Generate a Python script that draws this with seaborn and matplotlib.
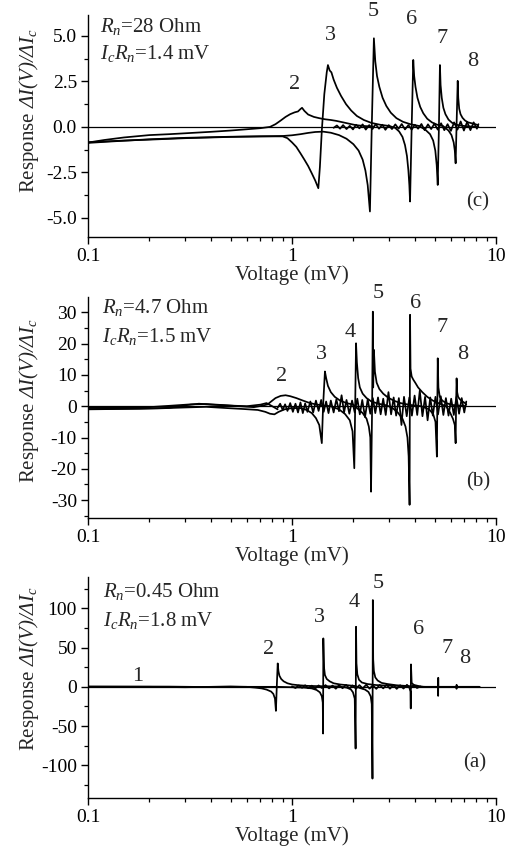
import matplotlib
matplotlib.use("Agg")
import matplotlib.pyplot as plt
import seaborn as sns
import pandas as pd
from matplotlib.ticker import MultipleLocator, LogLocator, NullFormatter

sns.set_style("ticks")
plt.rcParams['font.family'] = ['Liberation Serif', 'DejaVu Serif']
plt.rcParams['mathtext.fontset'] = 'custom'
plt.rcParams['mathtext.rm'] = 'Liberation Serif:italic'
plt.rcParams['mathtext.it'] = 'Liberation Serif:italic'
plt.rcParams['mathtext.bf'] = 'Liberation Serif:bold'
plt.rcParams['axes.unicode_minus'] = False

# ---------------- data ----------------
X_TICKS = [0.1, 1, 10]
X_TICK_LABELS = ["0.1", "1", "10"]
X_LABEL = "Voltage (mV)"
Y_LABEL = r"Response $\Delta I(V)/\Delta I_c$"

# Panel (c): Rn = 28 Ohm
C_TRACE1 = [(0.10, -0.86), (0.12, -0.72), (0.15, -0.58), (0.20, -0.45), (0.25, -0.40), (0.30, -0.35),
            (0.40, -0.27), (0.50, -0.20), (0.60, -0.13), (0.70, -0.07), (0.78, 0.00), (0.83, 0.15),
            (0.88, 0.35), (0.93, 0.55), (0.98, 0.70), (1.03, 0.80), (1.07, 0.85), (1.10, 0.98),
            (1.12, 1.05), (1.15, 0.88), (1.20, 0.68), (1.28, 0.55), (1.36, 0.48), (1.45, 0.42),
            (1.55, 0.38), (1.65, 0.33), (1.78, 0.25), (1.90, 0.18), (2.05, 0.10), (2.25, 0.05), (2.50, 0.02)]
C_TRACE2 = [(0.10, -0.88), (0.13, -0.80), (0.20, -0.68), (0.30, -0.60), (0.50, -0.54), (0.70, -0.52),
            (0.90, -0.52), (0.95, -0.62), (1.00, -0.85), (1.05, -1.10), (1.10, -1.45), (1.15, -1.80),
            (1.20, -2.15), (1.25, -2.55), (1.30, -2.95), (1.346, -3.37), (1.37, -2.20), (1.40, -0.20),
            (1.44, 1.80), (1.48, 3.00), (1.50, 3.40), (1.53, 3.10), (1.56, 3.00), (1.60, 2.60),
            (1.66, 2.15), (1.74, 1.70), (1.84, 1.25), (1.95, 0.90), (2.08, 0.60), (2.25, 0.38),
            (2.45, 0.22), (2.70, 0.12), (3.00, 0.05), (3.20, -0.05), (3.35, -0.25), (3.48, -0.55),
            (3.58, -1.00), (3.66, -1.60), (3.72, -2.40), (3.76, -3.20), (3.79, -4.10), (3.86, 0.00),
            (3.93, 3.68), (3.97, 2.80), (4.03, 2.20), (4.12, 1.60), (4.25, 1.10), (4.40, 0.75),
            (4.60, 0.45), (4.85, 0.25), (5.15, 0.12), (5.50, 0.05), (5.85, -0.20), (6.05, -0.45),
            (6.20, -0.85), (6.28, -1.30), (6.34, -2.00), (6.42, 0.50), (6.49, 2.53), (6.53, 1.60),
            (6.60, 1.00), (6.70, 0.70), (6.85, 0.50), (7.05, 0.35), (7.30, 0.25), (7.60, 0.20),
            (7.90, 0.15), (8.15, 0.10)]
C_TRACE3 = [(0.10, -0.84), (0.15, -0.75), (0.20, -0.70), (0.30, -0.62), (0.50, -0.55), (0.70, -0.52),
            (0.90, -0.50), (1.00, -0.46), (1.10, -0.40), (1.20, -0.33), (1.30, -0.28), (1.42, -0.26),
            (1.55, -0.32), (1.70, -0.45), (1.85, -0.65), (2.00, -0.95), (2.12, -1.30), (2.22, -1.80),
            (2.29, -2.40), (2.35, -3.20), (2.41, -4.65), (2.46, 0.00), (2.52, 4.87), (2.56, 3.60),
            (2.61, 2.80), (2.68, 2.20), (2.78, 1.60), (2.90, 1.15), (3.05, 0.78), (3.25, 0.48),
            (3.50, 0.28), (3.80, 0.15), (4.20, 0.05), (4.50, -0.15), (4.75, -0.40), (4.92, -0.75),
            (5.04, -1.30), (5.12, -2.10), (5.18, -3.19), (5.25, 0.00), (5.31, 3.40), (5.35, 2.30),
            (5.42, 1.60), (5.52, 1.05), (5.65, 0.70), (5.85, 0.40), (6.10, 0.22), (6.50, 0.10),
            (7.00, 0.05), (7.60, 0.02), (8.20, 0.00)]
C_NOISE_V = [1.60, 1.66, 1.72, 1.78, 1.85, 1.92, 1.99, 2.06, 2.14, 2.22, 2.30, 2.39, 2.48, 2.57, 2.67,
             2.77, 2.87, 2.98, 3.09, 3.21, 3.33, 3.45, 3.58, 3.72, 3.86, 4.00, 4.15, 4.31, 4.47, 4.64,
             4.81, 4.99, 5.18, 5.38, 5.58, 5.79, 6.01, 6.23, 6.47, 6.71, 6.96, 7.22, 7.49, 7.77, 8.06, 8.20]
C_NOISE_R = [-0.05, 0.08, -0.10, 0.10, -0.12, 0.06, -0.14, 0.12, -0.08, 0.14, -0.15, 0.10, -0.12, 0.15,
             -0.10, 0.12, -0.16, 0.10, -0.12, 0.14, -0.10, 0.16, -0.14, 0.10, -0.15, 0.12, -0.10, 0.16,
             -0.18, 0.14, -0.12, 0.18, -0.15, 0.20, -0.18, 0.15, -0.22, 0.25, -0.15, 0.30, -0.20, 0.28,
             -0.18, 0.25, -0.10, 0.15]

# Panel (b): Rn = 4.7 Ohm
B_TRACE1 = [(0.10, -0.5), (0.15, -0.4), (0.20, -0.3), (0.26, 0.2), (0.32, 0.6), (0.38, 0.7), (0.45, 0.4),
            (0.55, 0.0), (0.65, -0.3), (0.72, 0.2), (0.76, 0.6), (0.79, 1.5), (0.83, 2.6), (0.88, 3.3),
            (0.93, 3.5), (0.98, 3.2), (1.05, 2.6), (1.12, 1.9), (1.20, 1.2), (1.30, 0.6), (1.40, 0.3),
            (1.55, 0.0), (1.70, -1.0), (1.82, -2.5), (1.92, -4.5), (1.98, -8.0), (2.02, -19.8),
            (2.04, 0.0), (2.06, 20.1), (2.08, 14.0), (2.11, 9.0), (2.15, 6.0), (2.22, 4.0), (2.32, 2.6),
            (2.45, 1.5), (2.65, 0.8), (2.90, 0.3), (3.10, -0.5), (3.30, -2.0), (3.48, -4.0), (3.60, -6.5),
            (3.68, -10.0), (3.73, -16.0), (3.77, -31.5), (3.78, 0.0), (3.79, 29.2), (3.81, 12.0),
            (3.86, 9.5), (3.93, 8.5), (4.02, 7.5), (4.15, 6.0), (4.35, 4.5), (4.60, 3.0), (4.90, 1.8),
            (5.30, 0.8), (5.70, 0.0), (5.95, -2.0), (6.15, -4.0), (6.28, -6.0), (6.34, -11.8),
            (6.37, 0.0), (6.41, 8.9), (6.45, 4.5), (6.52, 3.0), (6.65, 2.2), (6.85, 1.5), (7.05, 1.0),
            (7.15, 0.5)]
B_TRACE2 = [(0.10, -0.9), (0.15, -0.8), (0.22, -0.7), (0.30, -0.4), (0.38, -0.2), (0.48, -0.6),
            (0.58, -0.9), (0.68, -1.2), (0.74, -1.8), (0.78, -2.4), (0.82, -2.6), (0.86, -1.8),
            (0.92, -1.0), (1.00, -0.6), (1.10, -0.6), (1.18, -1.2), (1.25, -2.2), (1.31, -3.8),
            (1.36, -6.0), (1.40, -11.8), (1.42, 0.0), (1.45, 11.1), (1.47, 9.0), (1.50, 6.5), (1.55, 4.5),
            (1.62, 3.0), (1.72, 1.8), (1.85, 1.0), (2.00, 0.5), (2.10, -0.8), (2.22, -2.2), (2.32, -4.0),
            (2.38, -6.5), (2.42, -10.0), (2.44, -27.3), (2.47, 0.0), (2.49, 30.2), (2.50, 6.0),
            (2.52, 18.0), (2.55, 11.0), (2.60, 7.5), (2.68, 5.5), (2.80, 4.0), (2.95, 2.8), (3.15, 1.8),
            (3.40, 1.0), (3.80, 0.4), (4.30, 0.0), (4.70, -1.0), (4.92, -2.5), (5.05, -5.0),
            (5.13, -16.1), (5.155, 0.0), (5.18, 15.3), (5.22, 6.0), (5.30, 3.0), (5.45, 1.8), (5.70, 1.0),
            (6.10, 0.4), (6.60, 0.2), (7.00, 0.1)]
B_TRACE3 = [(0.10, -1.0), (0.18, -0.8), (0.25, -0.5), (0.30, 0.3), (0.35, 0.8), (0.40, 0.5), (0.50, 0.2),
            (0.60, 0.0), (0.70, 0.5), (0.75, 1.0), (0.80, 0.0), (0.85, -1.0)]
B_NOISE_V = [0.85, 0.875, 0.9, 0.925, 0.95, 0.98, 1.01, 1.04, 1.07, 1.10, 1.13, 1.16, 1.19, 1.23, 1.27,
             1.31, 1.35, 1.39, 1.43, 1.47, 1.51, 1.55, 1.60, 1.65, 1.70, 1.75, 1.80, 1.85, 1.91, 1.97,
             2.03, 2.09, 2.15, 2.21, 2.28, 2.35, 2.42, 2.49, 2.56, 2.64, 2.72, 2.80, 2.88, 2.97, 3.06,
             3.15, 3.24, 3.34, 3.44, 3.54, 3.65, 3.76, 3.87, 3.99, 4.11, 4.23, 4.36, 4.49, 4.62, 4.76,
             4.90, 5.05, 5.20, 5.36, 5.52, 5.68, 5.85, 6.03, 6.21, 6.40, 6.59, 6.79, 6.99, 7.15]
B_NOISE_R = [-0.5, 0.8, -1.2, 0.6, -1.5, 1.0, -1.8, 0.8, -2.0, 1.2, -2.2, 0.9, -1.8, 1.5, -2.0, 1.8,
             -1.5, 2.0, -1.8, 1.5, -2.2, 1.8, -2.0, 2.2, -1.6, 3.5, -2.0, 2.0, -2.4, 1.8, -2.0, 2.4,
             -2.6, 2.0, -3.5, 2.2, -2.4, 2.6, -2.2, 2.8, -2.6, 2.4, -2.8, 4.5, -2.6, 2.8, -3.0, 2.6,
             -6.0, 3.0, -3.2, 2.8, -3.0, 3.4, -2.8, 5.0, -3.2, 3.0, -4.5, 2.8, -3.0, 3.0, -2.6, 3.2,
             -2.8, 2.6, -3.0, 2.4, -2.8, 3.0, -2.4, 2.6, -2.0, 1.5]

# Panel (a): Rn = 0.45 Ohm
A_TRACE1 = [(0.10, 0.0), (0.20, 0.0), (0.30, -0.5), (0.40, 0.0), (0.50, 0.5), (0.60, 0.0), (0.66, -1.0),
            (0.71, -2.0), (0.75, -3.5), (0.79, -6.0), (0.81, -9.0), (0.825, -15.0), (0.834, -30.6),
            (0.842, 0.0), (0.851, 29.8), (0.858, 20.0), (0.868, 14.0), (0.885, 10.0), (0.91, 7.0),
            (0.95, 4.5), (1.00, 3.0), (1.08, 2.0), (1.20, 1.2), (1.40, 0.8), (1.70, 0.5), (1.85, -1.0),
            (1.94, -3.0), (1.99, -7.0), (2.03, -15.0), (2.05, -78.5), (2.055, 0.0), (2.06, 76.4),
            (2.07, 30.0), (2.09, 16.0), (2.13, 9.0), (2.20, 5.5), (2.35, 3.5), (2.60, 2.2), (3.00, 1.5),
            (3.50, 1.0), (3.75, 0.0), (3.81, -6.0), (3.82, -27.5), (3.825, 0.0), (3.83, 28.5),
            (3.86, 5.0), (3.95, 2.5), (4.10, 1.5), (4.25, 0.5), (4.40, 0.0), (8.30, 0.0)]
A_TRACE2 = [(0.10, 0.5), (0.25, 0.3), (0.40, -0.3), (0.60, 0.0), (0.85, 0.0), (1.00, -0.5), (1.15, -1.0),
            (1.25, -2.0), (1.32, -4.0), (1.37, -7.0), (1.40, -12.0), (1.415, -20.0), (1.42, -59.4),
            (1.422, 0.0), (1.424, 61.6), (1.435, 25.0), (1.45, 15.0), (1.48, 10.0), (1.53, 7.0),
            (1.60, 4.5), (1.72, 3.0), (1.88, 2.0), (2.05, 1.0), (2.15, -1.5), (2.28, -3.5), (2.37, -6.5),
            (2.43, -12.0), (2.46, -22.0), (2.48, -116.7), (2.485, 0.0), (2.49, 110.4), (2.50, 35.0),
            (2.52, 20.0), (2.56, 12.0), (2.63, 8.0), (2.75, 5.0), (2.95, 3.5), (3.25, 2.0), (3.60, 1.2),
            (4.00, 0.5), (4.50, 0.0), (5.20, 0.0), (5.205, -11.5), (5.21, 11.5), (5.215, 0.0),
            (6.40, 0.0), (6.405, -2.5), (6.41, 2.5), (6.415, 0.0), (8.30, 0.0)]
A_NOISE_V = [1.00, 1.04, 1.08, 1.12, 1.16, 1.20, 1.25, 1.30, 1.35, 1.40, 1.46, 1.52, 1.58, 1.64, 1.70,
             1.77, 1.84, 1.91, 1.98, 2.06, 2.14, 2.22, 2.31, 2.40, 2.49, 2.59, 2.69, 2.80, 2.91, 3.02,
             3.14, 3.26, 3.39, 3.52, 3.66, 3.80, 3.95, 4.10, 4.26]
A_NOISE_R = [0.5, -1.5, 1.8, -1.2, 2.0, -1.8, 1.5, -2.2, 1.8, -1.5, 2.2, -2.0, 1.6, -2.4, 2.0, -1.8,
             2.5, -2.2, 1.8, -2.5, 2.2, -2.0, 2.6, -2.4, 2.0, -2.6, 2.4, -2.0, 2.8, -2.4, 2.2, -2.6,
             2.0, -2.2, 2.6, -2.0, 2.4, -1.5, 0.5]

# tick values / labels per panel
C_YTICKS = [-5.0, -2.5, 0.0, 2.5, 5.0]
C_YLABELS = ["-5.0", "-2.5", "0.0", "2.5", "5.0"]
B_YTICKS = [-30, -20, -10, 0, 10, 20, 30]
B_YLABELS = ["-30", "-20", "-10", "0", "10", "20", "30"]
A_YTICKS = [-100, -50, 0, 50, 100]
A_YLABELS = ["-100", "-50", "0", "50", "100"]

# annotation texts
C_INFO = [r"$R_n$=28 Ohm", r"$I_cR_n$=1.4 mV"]
B_INFO = [r"$R_n$=4.7 Ohm", r"$I_cR_n$=1.5 mV"]
A_INFO = [r"$R_n$=0.45 Ohm", r"$I_cR_n$=1.8 mV"]
C_PEAK_LABELS = ["2", "3", "5", "6", "7", "8"]
C_PEAK_V = [1.034, 1.535, 2.49, 3.87, 5.43, 7.7]
C_PEAK_Y = [2.31, 5.05, 6.32, 5.93, 4.84, 3.57]
B_PEAK_LABELS = ["2", "3", "4", "5", "6", "7", "8"]
B_PEAK_V = [0.893, 1.387, 1.923, 2.64, 4.05, 5.43, 6.89]
B_PEAK_Y = [9.4, 16.4, 23.7, 36.1, 32.9, 25.0, 16.4]
A_PEAK_LABELS = ["1", "2", "3", "4", "5", "6", "7", "8"]
A_PEAK_V = [0.176, 0.77, 1.356, 2.014, 2.64, 4.19, 5.75, 7.05]
A_PEAK_Y = [13.6, 48.0, 88.8, 107.9, 132.0, 73.5, 49.3, 36.6]


def frame(traces, noise_v, noise_r):
    rows = []
    for i, tr in enumerate(traces):
        for v, r in tr:
            rows.append((v, r, f"t{i}"))
    for v, r in zip(noise_v, noise_r):
        rows.append((v, r, "noise"))
    return pd.DataFrame(rows, columns=["V", "R", "trace"])


panels = [
    dict(df=frame([C_TRACE1, C_TRACE2, C_TRACE3], C_NOISE_V, C_NOISE_R), ylim=(-6.05, 6.15),
         yticks=C_YTICKS, ylabels=C_YLABELS, yminor=1.25, info=C_INFO, tag="(c)", tagpos=(8.17, -4.12),
         pl=C_PEAK_LABELS, pv=C_PEAK_V, py=C_PEAK_Y, rect=(0.1712, 0.7238, 0.7938, 0.2587),
         info_y=(0.925, 0.80), info_x=0.029, ylab_y=0.57),
    dict(df=frame([B_TRACE1, B_TRACE2, B_TRACE3], B_NOISE_V, B_NOISE_R), ylim=(-35.7, 34.9),
         yticks=B_YTICKS, ylabels=B_YLABELS, yminor=5, info=B_INFO, tag="(b)", tagpos=(8.17, -24.2),
         pl=B_PEAK_LABELS, pv=B_PEAK_V, py=B_PEAK_Y, rect=(0.1712, 0.3963, 0.7938, 0.2576),
         info_y=(0.929, 0.798), info_x=0.034, ylab_y=0.53),
    dict(df=frame([A_TRACE1, A_TRACE2], A_NOISE_V, A_NOISE_R), ylim=(-141, 139.7),
         yticks=A_YTICKS, ylabels=A_YLABELS, yminor=25, info=A_INFO, tag="(a)", tagpos=(7.88, -97),
         pl=A_PEAK_LABELS, pv=A_PEAK_V, py=A_PEAK_Y, rect=(0.1712, 0.0703, 0.7938, 0.2572),
         info_y=(0.911, 0.778), info_x=0.036, ylab_y=0.585),
]

fig = plt.figure(figsize=(5.14, 8.58), dpi=100)
for p in panels:
    ax = fig.add_axes(p["rect"])
    ax.set_xscale("log")
    ax.axhline(0, color="black", lw=0.9, zorder=1)
    sns.lineplot(data=p["df"], x="V", y="R", units="trace", estimator=None, sort=False,
                 color="black", linewidth=1.25, ax=ax, legend=False)
    ax.set_xlim(0.1, 10)
    ax.set_ylim(*p["ylim"])
    sns.despine(ax=ax)
    for s in ("left", "bottom"):
        ax.spines[s].set_linewidth(1.0)
        ax.spines[s].set_color("black")
    ax.set_xticks(X_TICKS, labels=X_TICK_LABELS)
    ax.xaxis.set_minor_locator(LogLocator(base=10, subs=[2, 3, 4, 5, 6, 7, 8, 9]))
    ax.xaxis.set_minor_formatter(NullFormatter())
    ax.set_yticks(p["yticks"], labels=p["ylabels"])
    ax.yaxis.set_minor_locator(MultipleLocator(p["yminor"]))
    ax.tick_params(which="major", direction="out", length=5, width=1.0, labelsize=14, pad=3,
                   color="black", labelcolor="black")
    ax.tick_params(which="minor", direction="out", length=3, width=0.9, color="black")
    ax.set_xlabel(X_LABEL, fontsize=15, labelpad=0)
    ax.set_ylabel(Y_LABEL, fontsize=15)
    ax.yaxis.set_label_coords(-0.115, p["ylab_y"])
    for txt, yy in zip(p["info"], p["info_y"]):
        ax.text(p["info_x"], yy, txt, transform=ax.transAxes, fontsize=15, ha="left", va="baseline")
    for lab, v, y in zip(p["pl"], p["pv"], p["py"]):
        ax.text(v, y, lab, fontsize=16, ha="center", va="center", clip_on=False)
    ax.text(p["tagpos"][0], p["tagpos"][1], p["tag"], fontsize=15, ha="center", va="center")
    ax.set_facecolor("white")

fig.savefig("out.png", dpi=100, facecolor="white")
